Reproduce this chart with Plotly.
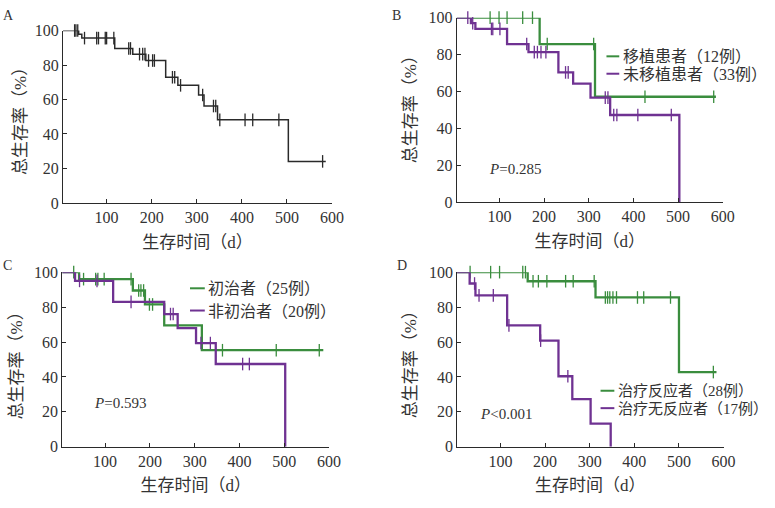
import numpy as np
import plotly.graph_objects as go

W, H = 775, 508
GREEN = "#3a8d3e"
PURPLE = "#6f3292"
BLACK = "#2a2a2a"
TXT = "#333333"
FONT = "Liberation Serif, Noto Sans CJK SC, serif"

# ---------------- data (days, survival %) ----------------
# Panel A: all patients
a_t = [0, 38, 45, 118, 158, 187, 231, 258, 304, 316, 346, 503]
a_s = [100, 97.8, 95.6, 89.6, 86.3, 82.6, 72.9, 68.2, 62.6, 56.2, 48.2, 24.1]
a_end = 586
a_c = [29, 32, 36, 51, 78, 82, 97, 100, 116, 149, 153, 173, 180, 185, 193, 202, 206,
       246, 251, 264, 313, 337, 342, 351, 407, 424, 482, 579]

# Panel B: transplant vs no transplant
b1_t = [0, 190, 314]
b1_s = [100, 85.7, 57.1]
b1_end = 585
b1_c = [79, 99, 117, 152, 174, 207, 311, 426, 580]
b2_t = [0, 36, 46, 117, 165, 232, 265, 304, 348, 503]
b2_s = [100, 97.0, 93.9, 85.7, 81.3, 70.3, 64.2, 56.6, 47.2, 0]
b2_end = 503
b2_c = [29, 40, 82, 85, 101, 161, 178, 185, 193, 204, 248, 254, 337, 343, 356, 363, 410, 485]

# Panel C: first-treated vs not
c1_t = [0, 42, 162, 189, 232, 316]
c1_s = [100, 96.0, 89.5, 81.5, 69.5, 55.3]
c1_end = 587
c1_c = [30, 52, 79, 84, 98, 158, 175, 180, 186, 199, 206, 362, 482, 578]
c2_t = [0, 33, 118, 232, 262, 303, 347, 502]
c2_s = [100, 95.0, 83.0, 76.0, 68.0, 59.4, 47.4, 0]
c2_end = 502
c2_c = [43, 82, 158, 246, 252, 314, 335, 407, 422]

# Panel D: responders vs non-responders
d1_t = [0, 161, 313, 500]
d1_s = [100, 94.8, 85.5, 42.8]
d1_end = 584
d1_c = [32, 78, 98, 150, 156, 173, 185, 204, 246, 263, 310, 335, 340, 345, 352, 360,
        407, 421, 481, 577]
d2_t = [0, 31, 44, 115, 189, 230, 261, 302, 347]
d2_s = [100, 93.5, 86.7, 69.5, 60.8, 40.4, 27.3, 13.3, 0]
d2_end = 347
d2_c = [42, 52, 84, 119, 190, 251]

x_ticks = [100, 200, 300, 400, 500, 600]
y_ticks = [0, 20, 40, 60, 80, 100]
x_title = "生存时间（d）"
y_title = "总生存率（%）"

labels_b = ["移植患者（12例）", "未移植患者（33例）"]
labels_c = ["初治者（25例）", "非初治者（20例）"]
labels_d = ["治疗反应者（28例）", "治疗无反应者（17例）"]
p_b, p_c, p_d = "=0.285", "=0.593", "<0.001"

# ---------------- figure ----------------
fig = go.Figure()


def px_x(p):
    return p / W


def px_y(p):
    return 1 - p / H


def km(t, s, end, cens, color, width, ax, name):
    t = list(t)
    s = list(s)
    xs = t + ([end] if end > t[-1] else [])
    ys = s + ([s[-1]] if end > t[-1] else [])
    xa, ya = ("x", "y") if ax == 1 else (f"x{ax}", f"y{ax}")
    fig.add_trace(go.Scatter(x=xs, y=ys, mode="lines", line=dict(color=color, width=width, shape="hv"),
                             xaxis=xa, yaxis=ya, name=name, showlegend=False, cliponaxis=False,
                             hoverinfo="skip"))
    idx = np.searchsorted(np.array(t), np.array(cens), side="right") - 1
    cy = [s[i] for i in idx]
    fig.add_trace(go.Scatter(x=cens, y=cy, mode="markers",
                             marker=dict(symbol="line-ns", size=9, line=dict(color=color, width=1.3)),
                             xaxis=xa, yaxis=ya, showlegend=False, cliponaxis=False, hoverinfo="skip"))


km(a_t, a_s, a_end, a_c, BLACK, 1.5, 1, "全部")
km(b1_t, b1_s, b1_end, b1_c, GREEN, 2.3, 2, labels_b[0])
km(b2_t, b2_s, b2_end, b2_c, PURPLE, 2.3, 2, labels_b[1])
km(c1_t, c1_s, c1_end, c1_c, GREEN, 2.3, 3, labels_c[0])
km(c2_t, c2_s, c2_end, c2_c, PURPLE, 2.3, 3, labels_c[1])
km(d1_t, d1_s, d1_end, d1_c, GREEN, 2.3, 4, labels_d[0])
km(d2_t, d2_s, d2_end, d2_c, PURPLE, 2.3, 4, labels_d[1])

panels = {
    1: dict(xd=[px_x(64), px_x(337.3)], yd=[px_y(201.7), px_y(23.3)], xr=[3.3, 600], yt=(21, 113)),
    2: dict(xd=[px_x(464), px_x(734)], yd=[px_y(200.7), px_y(10)], xr=[4.4, 600], yt=(417, 101)),
    3: dict(xd=[px_x(63.3), px_x(334.3)], yd=[px_y(454), px_y(273.3)], xr=[4.6, 600], yt=(17, 366)),
    4: dict(xd=[px_x(464.3), px_x(735)], yd=[px_y(454), px_y(273.3)], xr=[2.9, 600], yt=(417, 365)),
}

layout = dict(
    width=W, height=H, margin=dict(l=0, r=0, t=0, b=0),
    paper_bgcolor="white", plot_bgcolor="white", showlegend=False,
    font=dict(family=FONT, size=16, color=TXT),
)
ann = []
shapes = []
for k, p in panels.items():
    sx = "" if k == 1 else str(k)
    layout["xaxis" + sx] = dict(
        domain=p["xd"], range=p["xr"], anchor="y" + sx, tickmode="array", tickvals=x_ticks,
        ticks="inside", ticklen=4, tickcolor=BLACK, showline=True, linecolor=BLACK, linewidth=1,
        showgrid=False, zeroline=False, tickfont=dict(family=FONT, size=16, color=TXT),
        title=dict(text=x_title, font=dict(family=FONT, size=17, color=TXT), standoff=10),
    )
    layout["yaxis" + sx] = dict(
        domain=p["yd"], range=[0, 100], anchor="x" + sx, tickmode="array", tickvals=y_ticks,
        ticks="inside", ticklen=4, tickcolor=BLACK, showline=True, linecolor=BLACK, linewidth=1,
        showgrid=False, zeroline=False, tickfont=dict(family=FONT, size=16, color=TXT),
    )
    # y-axis title (placed as rotated text)
    ann.append(dict(text=y_title, x=px_x(p["yt"][0]), y=px_y(p["yt"][1]), xref="paper", yref="paper",
                    showarrow=False, textangle=-90, font=dict(family=FONT, size=17, color=TXT),
                    xanchor="center", yanchor="middle"))
fig.update_layout(**layout)

# panel letters
for txt, x, y in [("A", 9, 8), ("B", 403, 8), ("C", 8, 266), ("D", 408, 266)]:
    ann.append(dict(text=txt, x=px_x(x), y=px_y(y), xref="paper", yref="paper", showarrow=False,
                    font=dict(family=FONT, size=14, color=TXT), xanchor="center", yanchor="middle"))

# P values
for txt, x, y in [(p_b, 495, 167), (p_c, 93, 409), (p_d, 486, 420)]:
    ann.append(dict(text="<i>P</i>" + txt, x=px_x(x), y=px_y(y), xref="paper", yref="paper",
                    showarrow=False, font=dict(family=FONT, size=15, color=TXT),
                    xanchor="left", yanchor="middle"))


# legends
def legend(items, x0, x1, xt, ys, size):
    for (label, color), y in zip(items, ys):
        shapes.append(dict(type="line", xref="paper", yref="paper", x0=px_x(x0), x1=px_x(x1),
                           y0=px_y(y), y1=px_y(y), line=dict(color=color, width=2)))
        ann.append(dict(text=label, x=px_x(xt), y=px_y(y), xref="paper", yref="paper",
                        showarrow=False, font=dict(family=FONT, size=size, color=TXT),
                        xanchor="left", yanchor="middle", height=size + 2))


legend([(labels_b[0], GREEN), (labels_b[1], PURPLE)], 616, 629, 631, [50, 68], 16)
legend([(labels_c[0], GREEN), (labels_c[1], PURPLE)], 193, 208, 209, [290, 313], 16)
legend([(labels_d[0], GREEN), (labels_d[1], PURPLE)], 610, 624, 626, [396, 414], 15)

fig.update_layout(annotations=ann, shapes=shapes)
fig.write_html("out.html")
